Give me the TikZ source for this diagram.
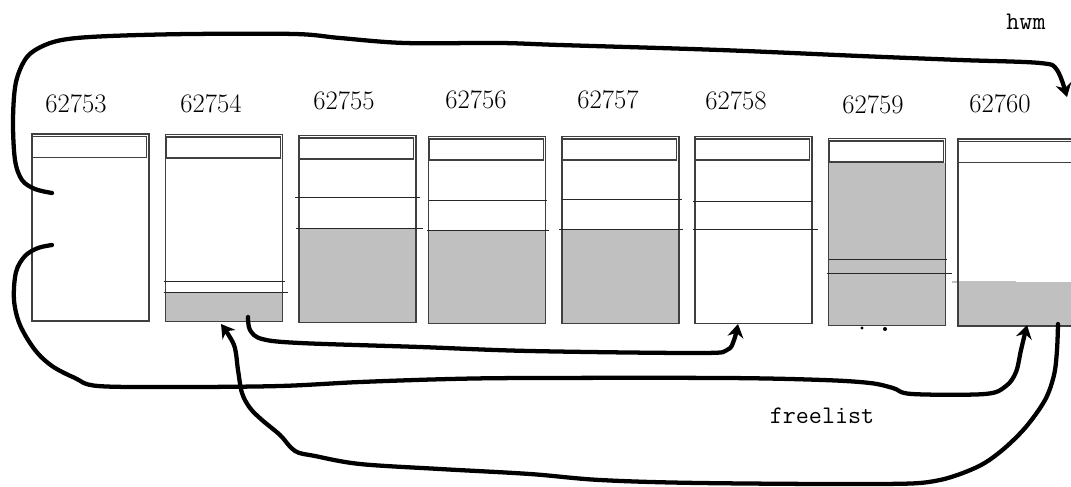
\documentclass[tikz,border=0pt]{standalone}
\usetikzlibrary{arrows.meta}

\definecolor{usedgray}{RGB}{192,192,192}
\tikzset{
  page/.style={draw=black!75, line width=0.8pt, minimum width=87.75pt, minimum height=140.25pt, inner sep=0pt},
  header/.style={draw=black!75, line width=0.8pt},
  rowline/.style={draw=black!85, line width=0.6pt},
  handarrow/.style={line width=3.2pt, line cap=round, line join=round, -{Stealth[length=10pt,width=12pt]}},
  pagenum/.style={font=\fontsize{20}{24}\selectfont, inner sep=0pt},
  tag/.style={font=\fontsize{19}{22}\selectfont\ttfamily, inner sep=0pt}
}

\begin{document}
\begin{tikzpicture}[x=0.75pt, y=-0.75pt]
    \clip (0,0) rectangle (1071,486);
    \fill[white] (0,0) rectangle (1071,486);

    % used parts of the pages
    \fill[usedgray] (166,292) rectangle (282,322);
    \fill[usedgray] (299,228) rectangle (416,322);
    \fill[usedgray] (429,230) rectangle (545,323);
    \fill[usedgray] (562,229) rectangle (679,323);
    \fill[usedgray] (829,163) rectangle (945,325);
    \fill[usedgray] (958,282) rectangle (1075,326);
    \draw[usedgray, line width=0.8pt] (952,282) -- (1016,282);

    % pages
    \node[page] (pg62753) at (90.5,227.5) {};
    \node[page] (pg62754) at (224,228) {};
    \node[page] (pg62755) at (357.5,229) {};
    \node[page] (pg62756) at (487,230) {};
    \node[page] (pg62757) at (620.5,230) {};
    \node[page] (pg62758) at (753.5,230) {};
    \node[page] (pg62759) at (887,232) {};
    \node[page] (pg62760) at (1016.5,232.5) {};

    \draw[header] ([shift={(1pt,-2.25pt)}]pg62753.north west) rectangle ([shift={(-2.25pt,-18pt)}]pg62753.north east);
    \draw[header] ([shift={(1pt,-2.25pt)}]pg62754.north west) rectangle ([shift={(-2.25pt,-18pt)}]pg62754.north east);
    \draw[header] ([shift={(1pt,-2.25pt)}]pg62755.north west) rectangle ([shift={(-2.25pt,-18pt)}]pg62755.north east);
    \draw[header] ([shift={(1pt,-2.25pt)}]pg62756.north west) rectangle ([shift={(-2.25pt,-18pt)}]pg62756.north east);
    \draw[header] ([shift={(1pt,-2.25pt)}]pg62757.north west) rectangle ([shift={(-2.25pt,-18pt)}]pg62757.north east);
    \draw[header] ([shift={(1pt,-2.25pt)}]pg62758.north west) rectangle ([shift={(-2.25pt,-18pt)}]pg62758.north east);
    \draw[header] ([shift={(1pt,-2.25pt)}]pg62759.north west) rectangle ([shift={(-2.25pt,-18pt)}]pg62759.north east);
    \draw[header] ([shift={(1pt,-2.25pt)}]pg62760.north west) rectangle ([shift={(-2.25pt,-18pt)}]pg62760.north east);

    % row boundaries
    \draw[rowline] (164,281) -- (285,281);
    \draw[rowline] (164,292) -- (288,292);
    \draw[rowline] (295,197) -- (420,197);
    \draw[rowline] (296,228) -- (423,228);
    \draw[rowline] (429,200) -- (547,200);
    \draw[rowline] (427,230) -- (549,230);
    \draw[rowline] (562,199) -- (682,199);
    \draw[rowline] (559,229) -- (683,229);
    \draw[rowline] (693,201) -- (813,201);
    \draw[rowline] (693,229) -- (818,229);
    \draw[rowline] (829,259) -- (947,259);
    \draw[rowline] (827,273) -- (952,273);
    \fill (862,328) circle (1.2pt);
    \fill (885,329) circle (1.5pt);

    % labels
    \node[pagenum] (lbl62753) at (76,104) {62753};
    \node[pagenum] (lbl62754) at (211,104) {62754};
    \node[pagenum] (lbl62755) at (344,101) {62755};
    \node[pagenum] (lbl62756) at (476,100) {62756};
    \node[pagenum] (lbl62757) at (608,100) {62757};
    \node[pagenum] (lbl62758) at (736,101) {62758};
    \node[pagenum] (lbl62759) at (873,105) {62759};
    \node[pagenum] (lbl62760) at (1000,104) {62760};
    \node[tag] (hwm) at (1026,22) {hwm};
    \node[tag] (freelist) at (822,416) {freelist};

    % link ends
    \coordinate (hwmfrom) at (52,193);
    \coordinate (hwmto) at (1067,97);
    \coordinate (freefrom) at (52,245);
    \coordinate (freeto) at (1027,325);
    \coordinate (nextfrom) at (248,317);
    \coordinate (nextto) at (738,324);
    \coordinate (backfrom) at (1058,324);
    \coordinate (backto) at (221,324);

    % links
    \draw[handarrow] plot[smooth, tension=0.55] coordinates {(hwmfrom) (35,189) (22,180) (15,160) (13,120) (16,82) (27,57) (45,45) (68,39) (110,36) (190,34) (295,34) (340,38) (405,43) (500,43) (560,45) (720,50) (860,56) (960,60) (1040,63) (1057,70) (hwmto)};
    \draw[handarrow] plot[smooth, tension=0.55] coordinates {(freefrom) (38,248) (25,256) (16,272) (14,300) (20,325) (35,350) (52,366) (75,378) (98,386) (180,387) (280,386) (360,382) (450,379) (530,378) (726,378) (823,380) (870,383) (893,388) (912,394) (985,394) (1006,386) (1016,372) (1021,350) (freeto)};
    \draw[handarrow] plot[smooth, tension=0.55] coordinates {(nextfrom) (250,330) (262,339) (300,343) (420,347) (530,351) (700,353) (727,350) (734,340) (nextto)};
    \draw[handarrow] plot[smooth, tension=0.55] coordinates {(backfrom) (1057,350) (1054,375) (1045,400) (1025,428) (1000,452) (975,468) (935,481) (880,484) (700,483) (600,480) (530,474) (440,469) (360,464) (315,456) (295,451) (280,435) (262,420) (250,408) (242,393) (238,370) (234,345) (backto)};
\end{tikzpicture}
\end{document}
